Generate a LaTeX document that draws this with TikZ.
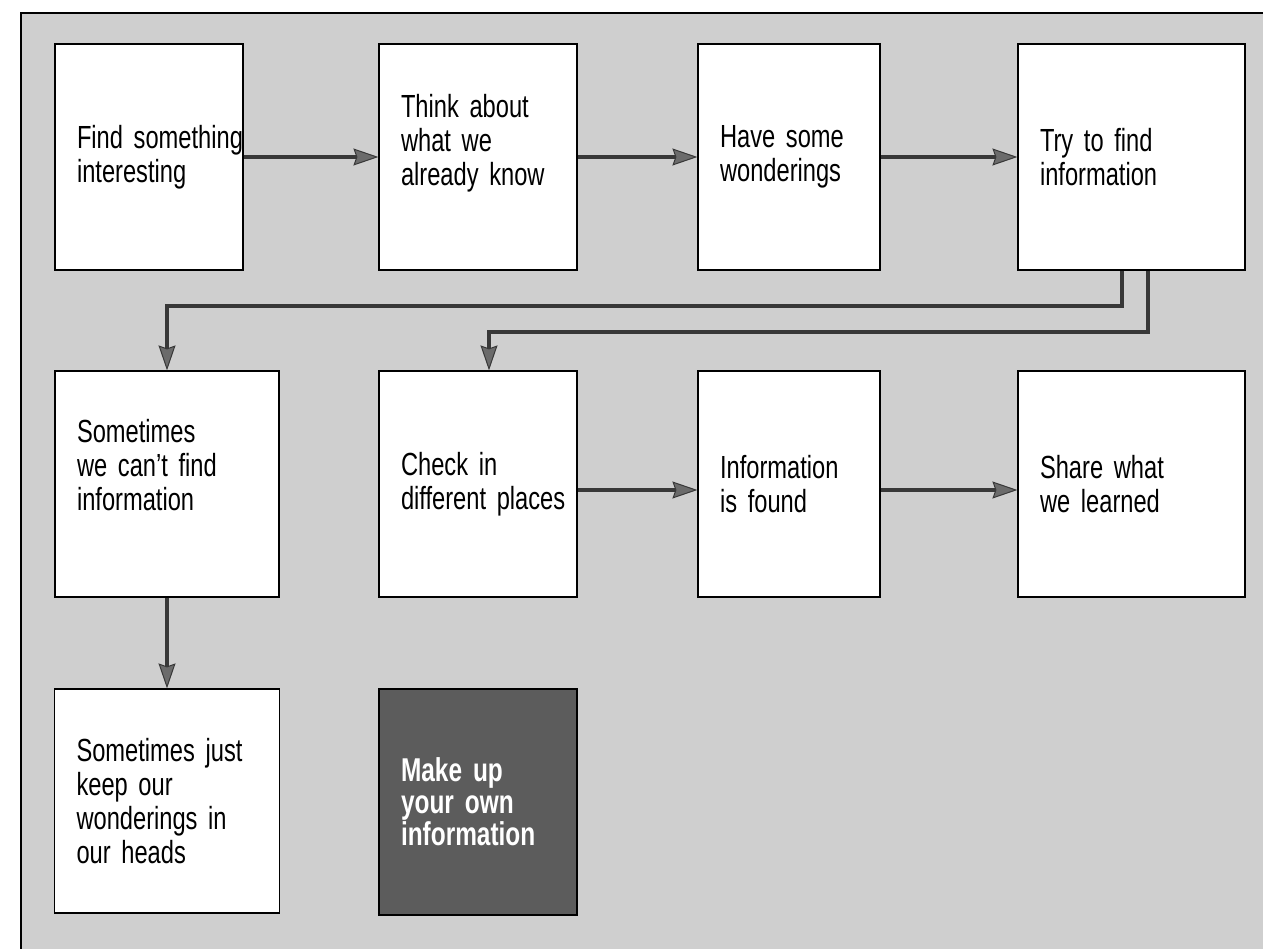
\documentclass[tikz,border=0pt]{standalone}
\usepackage{fontspec}
\setmainfont{Liberation Sans}[FakeStretch=0.74, WordSpace=0.8]
\usetikzlibrary{arrows.meta}
\definecolor{bg}{gray}{0.81}
\definecolor{arrowcol}{gray}{0.22}
\definecolor{headcol}{gray}{0.42}
\definecolor{darkbox}{gray}{0.36}
\newcommand{\dropdepth}[1]{\rule[-#1]{0pt}{0pt}}
\tikzset{
  stepbox/.style={draw=black, line width=1.2pt, fill=white, rectangle,
    inner xsep=0pt, inner ysep=0pt, align=left,
    font=\fontsize{32}{34}\selectfont,
    execute at begin node={\leftskip=22pt\relax}},
  darkstep/.style={stepbox, fill=darkbox, text=white,
    font=\fontsize{33}{32}\selectfont\bfseries},
  arr/.style={draw=arrowcol, line width=4pt,
    -{Stealth[length=25pt, width=17pt, inset=3pt, fill=headcol, line width=1pt]}}
}
\begin{document}
\begin{tikzpicture}[x=1pt,y=-1pt]
\useasboundingbox (0,0) rectangle (1263,949);
\fill[white] (0,0) rectangle (1263,949);
\fill[bg] (21,13) rectangle (1263,949);
\draw[line width=1.3pt] (21,949) |- (1263,13);

% row 1
\node[stepbox, minimum width=188pt, text width=188pt, minimum height=226pt] (b1) at (149,157) {Find~something\\interesting};
\node[stepbox, minimum width=198pt, text width=198pt, minimum height=226pt] (b2) at (478,157) {Think~about\\what~we\\already~know\dropdepth{34pt}};
\node[stepbox, minimum width=182pt, text width=182pt, minimum height=226pt] (b3) at (789,157) {Have~some\\wonderings};
\node[stepbox, minimum width=227pt, text width=227pt, minimum height=226pt] (b4) at (1131.5,157) {Try~to~find\\information};

% row 2
\node[stepbox, minimum width=224pt, text width=224pt, minimum height=226pt] (b5) at (167,484) {Sometimes\\we~can't~find\\information\dropdepth{38pt}};
\node[stepbox, minimum width=198pt, text width=198pt, minimum height=226pt] (b6) at (478,484) {Check~in\\different~places};
\node[stepbox, minimum width=182pt, text width=182pt, minimum height=226pt] (b7) at (789,484) {Information\\is~found};
\node[stepbox, minimum width=227pt, text width=227pt, minimum height=226pt] (b8) at (1131.5,484) {Share~what\\we~learned};

% row 3
\node[stepbox, minimum width=225pt, text width=225pt, minimum height=224pt] (b9) at (167,801) {Sometimes~just\\keep~our\\wonderings~in\\our~heads};
\node[darkstep, minimum width=198pt, text width=198pt, minimum height=226pt] (b10) at (478,802) {Make~up\\your~own\\information};

% connectors
\coordinate (s1) at (1122,306);
\coordinate (s2) at (1148,332);
\draw[arr] (b1.east) -- (b2.west);
\draw[arr] (b2.east) -- (b3.west);
\draw[arr] (b3.east) -- (b4.west);
\draw[arr] (b4.south -| s1) -- (s1) -| (b5.north);
\draw[arr] (b4.south -| s2) -- (s2) -| ([xshift=11pt]b6.north);
\draw[arr] ([yshift=-6pt]b6.east) -- ([yshift=-6pt]b7.west);
\draw[arr] ([yshift=-6pt]b7.east) -- ([yshift=-6pt]b8.west);
\draw[arr] (b5.south) -- (b5.south |- b9.north);
\end{tikzpicture}
\end{document}
